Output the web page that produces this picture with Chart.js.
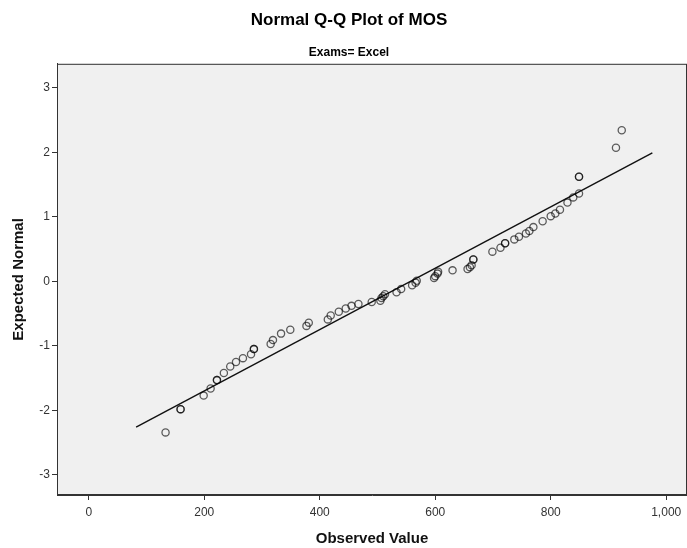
<!DOCTYPE html>
<html>
<head>
  <title>Normal Q-Q Plot of MOS</title>
  <script src="https://cdn.jsdelivr.net/npm/chart.js@4/dist/chart.umd.min.js"></script>
  <style>
    * {
      margin: 0;
      padding: 0;
      box-sizing: border-box;
    }

    body {
      background: #ffffff;
      width: 687px;
      height: 548px;
      overflow: hidden;
    }

    .chart-box {
      position: relative;
      width: 687px;
      height: 548px;
    }
  </style>
</head>
<body>
<div class="chart-box">
  <canvas id="qqChart"></canvas>
</div>

<script>
  const observed = [133, 159, 159, 199, 211, 222, 222, 234, 245, 255, 267, 281, 286, 286,
    315, 319, 333, 349, 377, 381, 414, 419, 433, 445, 455, 467, 490, 505, 507, 510, 513,
    533, 541, 560, 566, 568, 598, 600, 604, 605, 630, 656, 660, 663, 666, 666, 699, 713,
    721, 721, 737, 745, 757, 763, 770, 786, 800, 808, 816, 829, 839, 849, 849, 849, 913, 923];
  const expected = [-2.34, -1.98, -1.98, -1.77, -1.66, -1.53, -1.53, -1.42, -1.32, -1.25, -1.19, -1.13, -1.05, -1.05,
    -0.97, -0.91, -0.81, -0.75, -0.69, -0.64, -0.59, -0.53, -0.47, -0.42, -0.38, -0.35, -0.32, -0.30, -0.26, -0.23, -0.20,
    -0.17, -0.12, -0.06, -0.02, 0.01, 0.05, 0.08, 0.12, 0.15, 0.17, 0.19, 0.22, 0.25, 0.34, 0.34, 0.46, 0.52,
    0.59, 0.59, 0.65, 0.69, 0.74, 0.78, 0.84, 0.93, 1.01, 1.05, 1.11, 1.22, 1.30, 1.36, 1.62, 1.62, 2.07, 2.34];

  // reference line end points
  const lineX = [82, 976];
  const lineY = [-2.26, 1.99];

  const xTicks = [0, 200, 400, 600, 800, 1000];
  const yTicks = [-3, -2, -1, 0, 1, 2, 3];

  const points = observed.map((v, i) => ({ x: v, y: expected[i] }));
  const refLine = lineX.map((v, i) => ({ x: v, y: lineY[i] }));

  const plotFrame = {
    id: 'plotFrame',
    beforeDraw(chart) {
      const { ctx, chartArea: a } = chart;
      ctx.save();
      ctx.fillStyle = '#ffffff';
      ctx.fillRect(0, 0, chart.width, chart.height);
      ctx.fillStyle = '#f0f0f0';
      ctx.fillRect(a.left, a.top, a.right - a.left, a.bottom - a.top);
      ctx.restore();
    },
    afterDraw(chart) {
      const { ctx, chartArea: a } = chart;
      ctx.save();
      ctx.strokeStyle = '#333333';
      ctx.lineWidth = 1;
      ctx.strokeRect(a.left + 0.5, a.top + 0.5, a.right - a.left - 1, a.bottom - a.top - 1);
      ctx.restore();
    }
  };

  const tickFont = { family: 'Liberation Sans, Arial, sans-serif', size: 12 };
  const labelFont = { family: 'Liberation Sans, Arial, sans-serif', size: 15, weight: 'bold' };

  const ctx = document.getElementById('qqChart').getContext('2d');
  new Chart(ctx, {
    type: 'scatter',
    data: {
      datasets: [
        {
          label: 'Observed',
          data: points,
          pointStyle: 'circle',
          pointRadius: 3.6,
          pointBorderWidth: 1.3,
          pointBorderColor: 'rgba(0, 0, 0, 0.62)',
          pointBackgroundColor: 'rgba(0, 0, 0, 0)',
          order: 1
        },
        {
          label: 'Reference',
          data: refLine,
          showLine: true,
          pointRadius: 0,
          borderColor: '#111111',
          borderWidth: 1.4,
          order: 2
        }
      ]
    },
    options: {
      responsive: true,
      maintainAspectRatio: false,
      animation: false,
      events: [],
      layout: {
        autoPadding: false,
        padding: { left: 11, right: 0, top: 0, bottom: 0 }
      },
      scales: {
        x: {
          type: 'linear',
          min: -55,
          max: 1036,
          afterBuildTicks: s => { s.ticks = xTicks.map(v => ({ value: v })); },
          afterFit: s => { s.height = 53; s.paddingLeft = 0; s.paddingRight = 0; },
          grid: {
            drawOnChartArea: false,
            drawTicks: true,
            tickLength: 5,
            color: '#333333'
          },
          border: { display: true, color: '#333333' },
          ticks: {
            font: tickFont,
            color: '#333333',
            padding: 5,
            maxRotation: 0,
            callback: v => v.toLocaleString('en-US')
          },
          title: {
            display: true,
            text: 'Observed Value',
            font: labelFont,
            color: '#111111',
            padding: { top: 0, bottom: 0 }
          }
        },
        y: {
          type: 'linear',
          min: -3.31,
          max: 3.37,
          afterBuildTicks: s => { s.ticks = yTicks.map(v => ({ value: v })); },
          afterFit: s => { s.width = 46; s.paddingTop = 0; s.paddingBottom = 0; },
          grid: {
            drawOnChartArea: false,
            drawTicks: true,
            tickLength: 5,
            color: '#333333'
          },
          border: { display: true, color: '#333333' },
          ticks: {
            font: tickFont,
            color: '#333333',
            padding: 2
          },
          title: {
            display: true,
            text: 'Expected Normal',
            font: { family: 'Liberation Sans, Arial, sans-serif', size: 15, weight: 'bold', lineHeight: 1 },
            color: '#111111',
            padding: { top: 0, bottom: 0 }
          }
        }
      },
      plugins: {
        legend: { display: false },
        tooltip: { enabled: false },
        title: {
          display: true,
          text: 'Normal Q-Q Plot of MOS',
          font: { family: 'Liberation Sans Narrow, Liberation Sans, Arial, sans-serif', size: 17, weight: 'bold' },
          color: '#000000',
          padding: { top: 10, bottom: 11 }
        },
        subtitle: {
          display: true,
          text: 'Exams= Excel',
          font: { family: 'Liberation Sans Narrow, Liberation Sans, Arial, sans-serif', size: 12, weight: 'bold' },
          color: '#000000',
          padding: { top: 4, bottom: 4 }
        }
      }
    },
    plugins: [plotFrame]
  });
</script>
</body>
</html>
